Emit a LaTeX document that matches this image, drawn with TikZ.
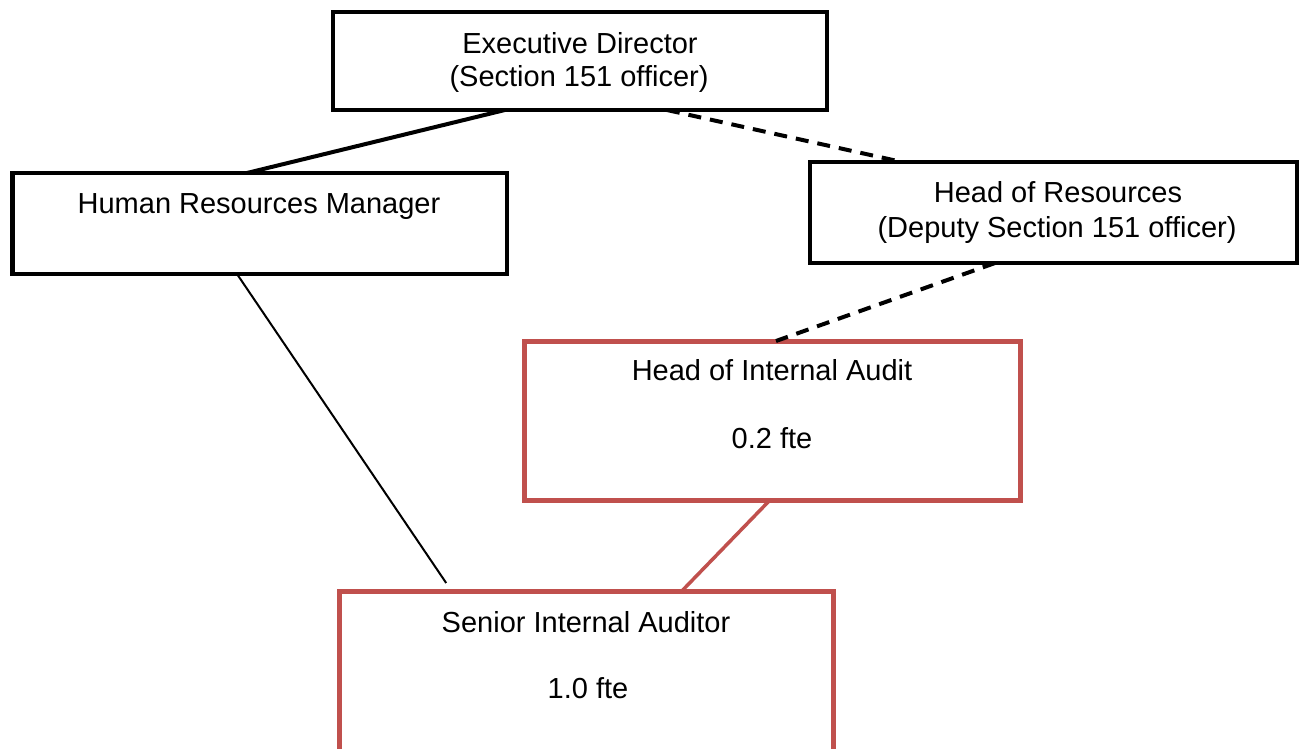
\documentclass[tikz,border=0pt]{standalone}
\usepackage{fontspec}
\setmainfont{Liberation Sans}
\usetikzlibrary{calc}
\definecolor{auditred}{HTML}{C0504D}
\begin{document}
\begin{tikzpicture}[x=1pt,y=-1pt,
  box/.style={draw=black, line width=4.3pt, rectangle, inner sep=0pt, outer sep=0pt},
  redbox/.style={draw=auditred, line width=5pt, rectangle, inner sep=0pt, outer sep=0pt},
  lbl/.style={anchor=base, inner sep=0pt, font=\fontsize{29}{34}\selectfont},
  solidlink/.style={draw=black, line width=4pt},
  dashlink/.style={draw=black, line width=4pt, dash pattern=on 13pt off 9pt},
  thinlink/.style={draw=black, line width=2pt},
  redlink/.style={draw=auditred, line width=3.5pt}]
\clip (0,0) rectangle (1311,748);
\fill[white] (0,0) rectangle (1311,748);
% boxes
\node[box, minimum width=494pt, minimum height=98pt] (ed) at (580,61) {};
\node[box, minimum width=494.5pt, minimum height=101pt] (hrm) at (259.75,223.5) {};
\node[box, minimum width=487pt, minimum height=101pt] (hor) at (1053.5,212.5) {};
\node[redbox, minimum width=496pt, minimum height=159pt] (hia) at (772,420.5) {};
\node[redbox, minimum width=494pt, minimum height=179pt] (sia) at (586,680.5) {};
% connector end points
\coordinate (siaHR) at ($(sia.north west)!0.217!(sia.north east)+(0,-8)$);
% connectors
\draw[solidlink] ($(ed.south west)!0.348!(ed.south east)$) -- ($(hrm.north west)!0.474!(hrm.north east)$);
\draw[dashlink] ($(ed.south west)!0.676!(ed.south east)$) -- ($(hor.north west)!0.189!(hor.north east)$);
\draw[dashlink] ($(hor.south west)!0.38!(hor.south east)$) -- ($(hia.north west)!0.508!(hia.north east)$);
\draw[thinlink] ($(hrm.south west)!0.454!(hrm.south east)$) -- (siaHR);
\draw[redlink] ($(hia.south west)!0.496!(hia.south east)$) -- ($(sia.north west)!0.694!(sia.north east)$);
% texts
\node[lbl] (edT1) at (580,53) {Executive Director};
\node[lbl] (edT2) at (579,86) {(Section 151 officer)};
\node[lbl] (hrmT) at (259,213) {Human Resources Manager};
\node[lbl] (horT1) at (1058,202) {Head of Resources};
\node[lbl] (horT2) at (1057,237) {(Deputy Section 151 officer)};
\node[lbl] (hiaT1) at (772,380) {Head of Internal Audit};
\node[lbl] (hiaT2) at (772,448) {0.2 fte};
\node[lbl] (siaT1) at (586,632) {Senior Internal Auditor};
\node[lbl] (siaT2) at (588,698) {1.0 fte};
\end{tikzpicture}
\end{document}
